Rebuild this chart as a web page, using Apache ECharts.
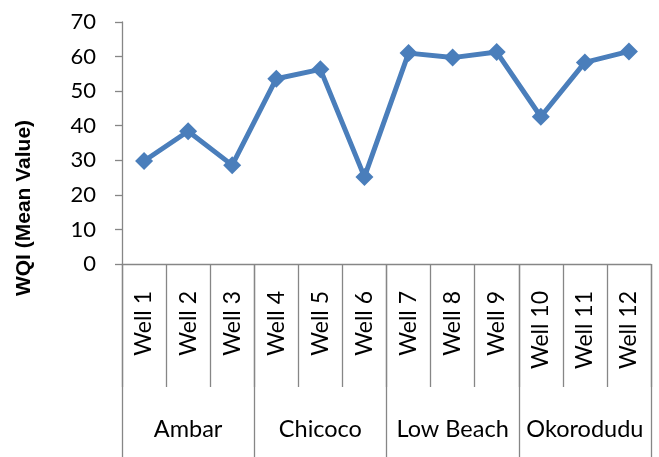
<!DOCTYPE html>
<html>
<head>
<meta charset="utf-8">
<script src="https://cdn.jsdelivr.net/npm/echarts@6/dist/echarts.min.js"></script>
<style>
html,body{margin:0;padding:0;background:#fff;}
#c{width:659px;height:457px;}
</style>
</head>
<body>
<div id="c"></div>
<script>
var wells = ['Well 1','Well 2','Well 3','Well 4','Well 5','Well 6','Well 7','Well 8','Well 9','Well 10','Well 11','Well 12'];
var groups = ['Ambar','Chicoco','Low Beach','Okorodudu'];
var wqi = [29.8, 38.4, 28.6, 53.6, 56.3, 25.2, 61.0, 59.7, 61.3, 42.6, 58.3, 61.5];
var yTicks = [0, 70, 10];
var yTitle = 'WQI (Mean Value)';

var FONT = 'Lato';
var AX = '#868686';
var chart = echarts.init(document.getElementById('c'));
chart.setOption({
  animation: false,
  backgroundColor: '#fff',
  grid: {left: 122, right: 8, top: 22, bottom: 193, containLabel: false},
  graphic: [{
    type: 'text',
    x: 24, y: 208,
    rotation: Math.PI / 2,
    style: {
      text: yTitle,
      fill: '#000',
      font: 'bold 21px "Liberation Sans", Arial, sans-serif',
      textAlign: 'center',
      textVerticalAlign: 'middle'
    }
  }],
  xAxis: [{
    type: 'category',
    data: wells,
    position: 'bottom',
    boundaryGap: true,
    axisLine: {show: true, lineStyle: {color: AX, width: 1.3}},
    axisTick: {show: true, interval: 0, length: 123, lineStyle: {color: AX, width: 1.3}},
    axisLabel: {interval: 0, rotate: 90, margin: 27, color: '#000', fontFamily: FONT, fontSize: 23}
  }, {
    type: 'category',
    data: groups,
    position: 'bottom',
    boundaryGap: true,
    axisLine: {show: false},
    axisTick: {show: true, interval: 0, length: 195, lineStyle: {color: AX, width: 1.3}},
    axisLabel: {interval: 0, margin: 153, color: '#000', fontFamily: FONT, fontSize: 23.5}
  }],
  yAxis: {
    type: 'value',
    min: yTicks[0], max: yTicks[1], interval: yTicks[2],
    axisLine: {show: true, lineStyle: {color: AX, width: 1.3}},
    axisTick: {show: true, length: 7, lineStyle: {color: AX, width: 1.3}},
    splitLine: {show: false},
    axisLabel: {margin: 26, color: '#000', fontFamily: FONT, fontSize: 22}
  },
  series: [{
    type: 'line',
    xAxisIndex: 0,
    data: wqi,
    symbol: 'diamond',
    symbolSize: 18,
    lineStyle: {color: '#4a7ebb', width: 5},
    itemStyle: {color: '#4a7ebb'}
  }]
});
</script>
</body>
</html>
